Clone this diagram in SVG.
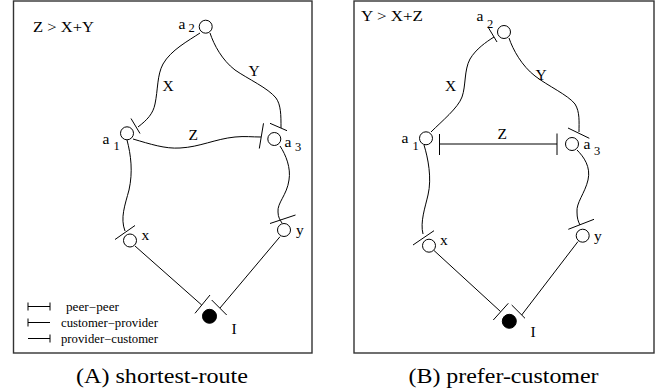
<svg xmlns="http://www.w3.org/2000/svg" width="659" height="391" viewBox="0 0 659 391" font-family="Liberation Serif, serif">
  <style>
    .frame { fill: none; stroke: #333; stroke-width: 1.4; }
    .node { fill: #fff; stroke: #000; stroke-width: 1; }
    .src { fill: #000; stroke: #000; stroke-width: 1; }
    .edge { fill: none; stroke: #000; stroke-width: 1; }
    .tick { fill: none; stroke: #000; stroke-width: 1; }
    text { font-family: "Liberation Serif", serif; fill: #000; }
    .lbl { font-size: 15.5px; }
    .sub { font-size: 12.5px; }
    .legend { font-size: 11.5px; }
    .cap { font-size: 21px; }
  </style>

  <!-- panel frames -->
  <rect class="frame" x="13.5" y="1" width="298.5" height="352"/>
  <rect class="frame" x="354" y="1" width="300" height="352"/>

  <!-- ===== Panel A: shortest-route ===== -->
  <g id="connectors-a">
    <!-- X: a1 - a2 -->
    <path class="edge" d="M138,127 C147,120 153,114 155,104 C158,90 157,75 163,64 C171,50 188,41 200,33"/>
    <line class="tick" x1="131" y1="118.5" x2="140" y2="133.5"/>
    <!-- Y: a2 - a3 -->
    <path class="edge" d="M210,33 C214,45 222,60 235,70 C248,79 268,88 276,98 C281,105 281,115 281,128"/>
    <line class="tick" x1="270" y1="123.3" x2="287" y2="130.7"/>
    <!-- Z: a1 - a3 -->
    <path class="edge" d="M133,139 C150,144 165,149 180,148 C200,147 215,139 235,137 C245,136 252,137 261,137"/>
    <line class="tick" x1="263.5" y1="123.3" x2="259.3" y2="148.5"/>
    <!-- a1 - x -->
    <path class="edge" d="M127,140 C131,155 133,172 129,190 C125,205 120,218 125,231"/>
    <line class="tick" x1="115" y1="239.5" x2="135" y2="225.5"/>
    <!-- a3 - y -->
    <path class="edge" d="M280,146 C286,155 291,168 289,180 C287,195 277,203 278,212 C278,217 280,220 282,223"/>
    <line class="tick" x1="270" y1="223.5" x2="295.5" y2="215"/>
    <!-- x - I -->
    <line class="edge" x1="135" y1="246" x2="201.7" y2="305"/>
    <line class="tick" x1="195" y1="313.3" x2="210" y2="295"/>
    <!-- y - I -->
    <line class="edge" x1="280" y1="236.7" x2="220" y2="308"/>
    <line class="tick" x1="211.7" y1="300" x2="226.7" y2="315"/>
  </g>

  <g id="a-a2">
    <circle class="node" cx="205.7" cy="26.7" r="6.5"/>
    <text class="lbl" x="178.5" y="28.5">a<tspan class="sub" x="188.5" y="32">2</tspan></text>
  </g>
  <g id="a-a1">
    <circle class="node" cx="127" cy="133.3" r="6.5"/>
    <text class="lbl" x="102.5" y="144">a<tspan class="sub" x="113.5" y="150">1</tspan></text>
  </g>
  <g id="a-a3">
    <circle class="node" cx="274.3" cy="139" r="6.5"/>
    <text class="lbl" x="284.5" y="146.5">a<tspan class="sub" x="295" y="151">3</tspan></text>
  </g>
  <g id="a-x">
    <circle class="node" cx="130" cy="240.5" r="6.5"/>
    <text class="lbl" x="141.5" y="240">x</text>
  </g>
  <g id="a-y">
    <circle class="node" cx="284" cy="230" r="6.5"/>
    <text class="lbl" x="296" y="235">y</text>
  </g>
  <g id="a-I">
    <circle class="src" cx="209.5" cy="316.3" r="7"/>
    <text class="lbl" x="231.5" y="334">I</text>
  </g>

  <g id="a-edge-labels">
    <text class="lbl" x="162.5" y="91">X</text>
    <text class="lbl" x="248.5" y="75.5">Y</text>
    <text class="lbl" x="188.5" y="140">Z</text>
    <text class="lbl" x="33" y="32" textLength="61" lengthAdjust="spacingAndGlyphs">Z &gt; X+Y</text>
  </g>

  <!-- legend -->
  <g id="legend">
    <line class="edge" x1="28" y1="306.5" x2="50" y2="306.5"/>
    <line class="tick" x1="28" y1="302.5" x2="28" y2="310.5"/>
    <line class="tick" x1="50" y1="302.5" x2="50" y2="310.5"/>
    <text class="legend" x="66" y="310.5" textLength="53" lengthAdjust="spacingAndGlyphs">peer−peer</text>

    <line class="edge" x1="28" y1="322.5" x2="50" y2="322.5"/>
    <line class="tick" x1="28" y1="318.5" x2="28" y2="326.5"/>
    <text class="legend" x="61" y="326.5" textLength="97" lengthAdjust="spacingAndGlyphs">customer−provider</text>

    <line class="edge" x1="28" y1="338.5" x2="50" y2="338.5"/>
    <line class="tick" x1="50" y1="334.5" x2="50" y2="342.5"/>
    <text class="legend" x="61" y="342.5" textLength="97" lengthAdjust="spacingAndGlyphs">provider−customer</text>
  </g>

  <!-- ===== Panel B: prefer-customer ===== -->
  <g id="connectors-b">
    <!-- X: a1 - a2 -->
    <path class="edge" d="M431,132 C442,121 458,108 462,97 C466,86 464,70 470,59 C476,49 486,42 494,37"/>
    <line class="tick" x1="488" y1="27" x2="497" y2="42"/>
    <!-- Y: a2 - a3 -->
    <path class="edge" d="M509,38 C513,50 522,66 535,76 C548,86 568,95 575,104 C580,112 579,122 579,132"/>
    <line class="tick" x1="568" y1="128" x2="589.3" y2="138.3"/>
    <!-- Z: a1 - a3 (peer) -->
    <line class="edge" x1="439.5" y1="144" x2="557" y2="144"/>
    <line class="tick" x1="439.5" y1="134" x2="439.5" y2="155"/>
    <line class="tick" x1="557" y1="133.5" x2="557" y2="155"/>
    <!-- a1 - x -->
    <path class="edge" d="M424,145 C428,158 432,178 428,195 C425,208 420,222 423,234"/>
    <line class="tick" x1="413" y1="245" x2="434" y2="230.7"/>
    <!-- a3 - y -->
    <path class="edge" d="M577,150 C584,157 591,167 588,180 C585,193 576,203 577,212 C577,218 578,221 580,225"/>
    <line class="tick" x1="568.3" y1="229.3" x2="594" y2="219.3"/>
    <!-- x - I -->
    <line class="edge" x1="434" y1="250.5" x2="500.5" y2="311.5"/>
    <line class="tick" x1="493.3" y1="320" x2="508.3" y2="303.3"/>
    <!-- y - I -->
    <line class="edge" x1="578" y1="241.5" x2="521.7" y2="315"/>
    <line class="tick" x1="511.7" y1="305" x2="525" y2="318.3"/>
  </g>

  <g id="b-a2">
    <circle class="node" cx="504" cy="32" r="6.5"/>
    <text class="lbl" x="476.5" y="20.5">a<tspan class="sub" x="487" y="28">2</tspan></text>
  </g>
  <g id="b-a1">
    <circle class="node" cx="426" cy="138.3" r="6.5"/>
    <text class="lbl" x="401.5" y="143">a<tspan class="sub" x="412.5" y="150">1</tspan></text>
  </g>
  <g id="b-a3">
    <circle class="node" cx="572" cy="144" r="6.5"/>
    <text class="lbl" x="583.5" y="149">a<tspan class="sub" x="594" y="154.5">3</tspan></text>
  </g>
  <g id="b-x">
    <circle class="node" cx="429" cy="245.7" r="6.5"/>
    <text class="lbl" x="440" y="245">x</text>
  </g>
  <g id="b-y">
    <circle class="node" cx="582.7" cy="235.7" r="6.5"/>
    <text class="lbl" x="594" y="240.5">y</text>
  </g>
  <g id="b-I">
    <circle class="src" cx="509.3" cy="321.3" r="7"/>
    <text class="lbl" x="530.5" y="337">I</text>
  </g>

  <g id="b-edge-labels">
    <text class="lbl" x="445" y="90.7">X</text>
    <text class="lbl" x="535.5" y="80">Y</text>
    <text class="lbl" x="497.5" y="139">Z</text>
    <text class="lbl" x="361" y="21" textLength="62" lengthAdjust="spacingAndGlyphs">Y &gt; X+Z</text>
  </g>

  <!-- captions -->
  <text class="cap" x="76" y="383" textLength="172" lengthAdjust="spacingAndGlyphs">(A) shortest-route</text>
  <text class="cap" x="408.5" y="383" textLength="190" lengthAdjust="spacingAndGlyphs">(B) prefer-customer</text>
</svg>
